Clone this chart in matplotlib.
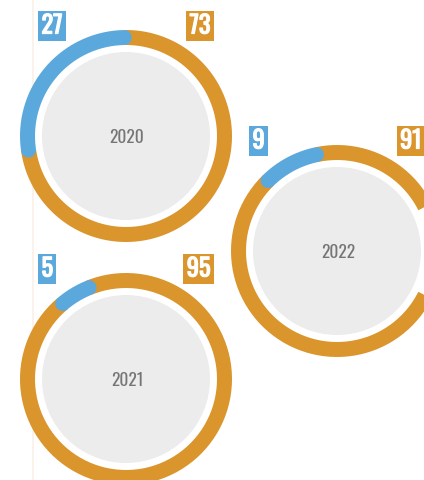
import numpy as np
import matplotlib.pyplot as plt
import matplotlib.patheffects as pe
from matplotlib.patches import Circle

# ------------------ DATA ------------------

years = ['2020', '2021', '2022']
blue_share = [27, 5, 9]
orange_share = [73, 95, 91]

# ------------------ LAYOUT / STYLE ------------------

centers = [(126, 136), (126, 379), (337, 251)]
arc_offset = [1, 22, 12]          # where the blue arc begins, degrees from 12 o'clock
ring_r = 98.5
ring_w = 15
face_r = 84

BLUE = '#5ba8dc'
ORANGE = '#da952c'
FACE = '#ececec'
YEAR_COL = '#757575'
FONT = ['Oswald', 'Roboto Condensed', 'DejaVu Sans']

W, H = 424, 480
fig = plt.figure(figsize=(W / 100, H / 100), dpi=100)
ax = fig.add_axes([0, 0, 1, 1])
ax.set_xlim(0, W)
ax.set_ylim(H, 0)
ax.set_aspect('equal')
ax.axis('off')

px = 0.72  # one pixel in points
heavy = [pe.withStroke(linewidth=0.9, foreground='white')]


def arc(cx, cy, a0, a1, n=200):
    # angles counted from the top, running anticlockwise on screen
    a = np.radians(np.linspace(a0, a1, n))
    return cx - ring_r * np.sin(a), cy - ring_r * np.cos(a)


# faint guide line on the left
ax.plot([32.5, 32.5], [0, H], color='#fbf1e7', lw=1.6 * px, zorder=0)

for year, b, o, (cx, cy), off in zip(years, blue_share, orange_share, centers, arc_offset):
    total = b + o
    b_deg = 360 * b / total
    o_deg = 360 * o / total

    ax.add_patch(Circle((cx, cy), face_r, color=FACE, lw=0, zorder=1))

    x, y = arc(cx, cy, off + b_deg, off + b_deg + o_deg)
    ax.plot(x, y, color=ORANGE, lw=ring_w * px, solid_capstyle='butt', zorder=2)
    x, y = arc(cx, cy, off, off + b_deg)
    ax.plot(x, y, color=BLUE, lw=ring_w * px, solid_capstyle='round', zorder=3)

    ax.text(cx + 1, cy + 1.5, year, ha='center', va='center', fontsize=12.5,
            color=YEAR_COL, family=FONT, zorder=4)

    ty = cy - 110
    ax.text(cx - 84.5, ty, str(b), ha='left', va='center', fontsize=17.5,
            color='white', family=FONT, zorder=4, path_effects=heavy,
            bbox=dict(boxstyle='square,pad=0.14', fc=BLUE, ec='none'))
    ax.text(cx + 84.5, ty, str(o), ha='right', va='center', fontsize=17.5,
            color='white', family=FONT, zorder=4, path_effects=heavy,
            bbox=dict(boxstyle='square,pad=0.14', fc=ORANGE, ec='none'))

fig.savefig('out.png', dpi=100)
